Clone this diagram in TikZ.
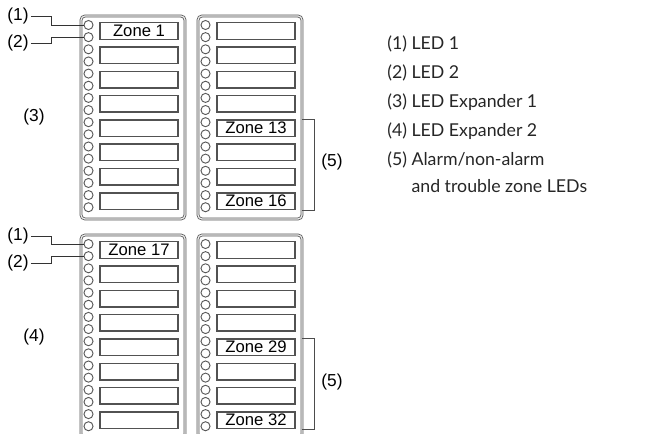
\documentclass[tikz,border=0pt]{standalone}
\usepackage{fontspec}
\setmainfont{Liberation Sans}
\newfontfamily\legendfont{Lato}
\usetikzlibrary{positioning}

\tikzset{
    panel/.style={draw=black!65, double=black!8, double distance=0.9pt, line width=0.6pt, rounded corners=3pt},
    zonebox/.style={draw=black!68, line width=1.1pt, minimum width=58.5pt, minimum height=12.4pt, inner sep=0pt},
    zonetext/.style={font=\fontsize{12.5}{14}\selectfont, inner sep=0pt},
    led/.style={circle, draw=black!65, line width=0.7pt, minimum size=6.8pt, inner sep=0pt},
    lbl/.style={font=\fontsize{13}{15}\selectfont, inner sep=1.5pt},
    leader/.style={line width=0.7pt, black!80},
    bracket/.style={line width=0.7pt, black!70},
    legend/.style={font=\legendfont\fontsize{13.3}{16}\selectfont, text=black!85, anchor=west, inner sep=0pt}
}

\begin{document}
\begin{tikzpicture}[x=0.75pt,y=-0.75pt]
    \useasboundingbox (0,0) rectangle (652,434);
    \clip (0,0) rectangle (652,434);

    % expander panels
    \foreach \px/\py/\p in {81/16/1, 198/16/2, 81/235/3, 198/235/4} {
        \draw[panel] (\px,\py) rectangle ++(104,203);
        \coordinate (pnl\p-ne) at (\px+104,\py);
        \foreach \r in {0,...,7} {
            \node[zonebox] (z\p-\r) at (\px+58,\py+15+24.3*\r) {};
            \node[led] (led\p-\r a) at (\px+7.5,\py+9+24.3*\r) {};
            \node[led] (led\p-\r b) at (\px+7.5,\py+21.15+24.3*\r) {};
        }
    }

    % zone names
    \node[zonetext] at (z1-0) {Zone 1};
    \node[zonetext] at (z2-4) {Zone 13};
    \node[zonetext] at (z2-7) {Zone 16};
    \node[zonetext] at (z3-0) {Zone 17};
    \node[zonetext] at (z4-4) {Zone 29};
    \node[zonetext] at (z4-7) {Zone 32};

    % callouts, left side
    \node[lbl] (one1) at (18,16) {(1)};
    \node[lbl] (two1) at (18,43) {(2)};
    \node[lbl] (three) at (34,117) {(3)};
    \node[lbl] (one2) at (18,236) {(1)};
    \node[lbl] (two2) at (18,263) {(2)};
    \node[lbl] (four) at (34,337) {(4)};

    \draw[leader] (one1.east) -- ++(21,0) |- (led1-0a.west);
    \draw[leader] (two1.east) -- ++(21,0) |- (led1-0b.west);
    \draw[leader] (one2.east) -- ++(21,0) |- (led3-0a.west);
    \draw[leader] (two2.east) -- ++(21,0) |- (led3-0b.west);

    % brackets
    \draw[bracket] (z2-4.north -| pnl2-ne) -- ++(12,0) |- (z2-7.south -| pnl2-ne);
    \draw[bracket] (z4-4.north -| pnl4-ne) -- ++(12,0) |- (z4-7.south -| pnl4-ne);
    \node[lbl] (five1) at (332,162) {(5)};
    \node[lbl] (five2) at (332,382) {(5)};

    % legend
    \node[legend] (leg1) at (387,44) {(1) LED 1};
    \node[legend] (leg2) at (387,73) {(2) LED 2};
    \node[legend] (leg3) at (387,102) {(3) LED Expander 1};
    \node[legend] (leg4) at (387,131) {(4) LED Expander 2};
    \node[legend] (leg5) at (387,160) {(5) Alarm/non-alarm};
    \node[legend] (leg6) at (387,187) {\phantom{(5) }and trouble zone LEDs};
\end{tikzpicture}
\end{document}
